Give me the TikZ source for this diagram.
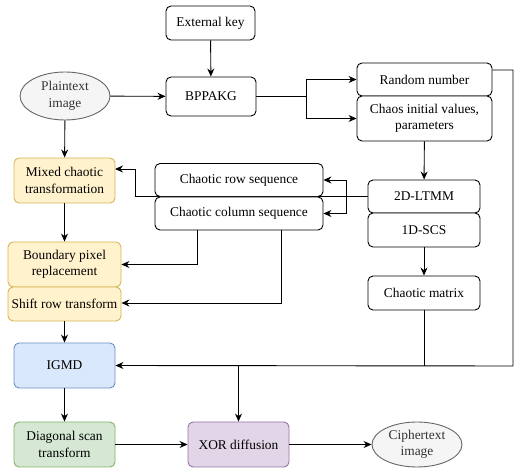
\documentclass[tikz,border=0pt]{standalone}
\usepackage{fontspec}
\setmainfont{Liberation Serif}
\usetikzlibrary{arrows.meta,shapes.geometric,calc}
\definecolor{yfill}{HTML}{FFF2CC}\definecolor{ystroke}{HTML}{D6B656}
\definecolor{bfill}{HTML}{DAE8FC}\definecolor{bstroke}{HTML}{6C8EBF}
\definecolor{gfill}{HTML}{D5E8D4}\definecolor{gstroke}{HTML}{82B366}
\definecolor{pfill}{HTML}{E1D5E7}\definecolor{pstroke}{HTML}{9673A6}
\definecolor{efill}{HTML}{F5F5F5}\definecolor{estroke}{HTML}{666666}
\definecolor{etext}{HTML}{333333}
\begin{document}
\begin{tikzpicture}[x=1pt,y=-1pt,
  font=\fontspec{Liberation Serif}\fontsize{13.4}{16.5}\selectfont,
  box/.style={draw=black,line width=0.9pt,rounded corners=5pt,fill=white,align=center,inner sep=2pt},
  ybox/.style={box,draw=ystroke,fill=yfill},
  bbox/.style={box,draw=bstroke,fill=bfill},
  gbox/.style={box,draw=gstroke,fill=gfill},
  pbox/.style={box,draw=pstroke,fill=pfill},
  ell/.style={ellipse,draw=estroke,fill=efill,text=etext,line width=0.9pt,align=center,inner sep=0pt},
  conn/.style={line width=0.9pt},
  arr/.style={conn,-{Stealth[length=8pt,width=7pt]}}]
\useasboundingbox (0,0) rectangle (515,470);

% line from 2D-LTMM to Mixed (behind boxes)
\coordinate (ltmmw) at (368,196.5);
\draw[arr] (ltmmw) -- (135,196.5) -- (135,169) -- (115,169);

\node[box,minimum width=89pt,minimum height=34pt] (ext) at (210.5,23) {External key};
\node[box,minimum width=90pt,minimum height=39pt] (bpp) at (211,96.5) {BPPAKG};
\node[ell,minimum width=90pt,minimum height=48pt] (plain) at (65,96) {Plaintext\\image};
\node[ybox,minimum width=101pt,minimum height=45pt] (mix) at (64.5,180.5) {Mixed chaotic\\transformation};
\node[box,minimum width=168pt,minimum height=33pt] (row) at (239,180) {Chaotic row sequence};
\node[box,minimum width=168pt,minimum height=33pt] (col) at (239,213.5) {Chaotic column sequence};
\node[box,minimum width=135pt,minimum height=33pt] (rand) at (424.5,79.5) {Random number};
\node[box,minimum width=135pt,minimum height=45pt] (chaos) at (424.5,118.5) {Chaos initial values,\\parameters};
\node[box,minimum width=112pt,minimum height=33pt] (ltmm) at (424,196.5) {2D-LTMM};
\node[box,minimum width=112pt,minimum height=34pt] (scs) at (424,230) {1D-SCS};
\node[box,minimum width=112pt,minimum height=34pt] (mat) at (424,293) {Chaotic matrix};
\node[ybox,minimum width=113pt,minimum height=45pt] (bound) at (64.5,264.5) {Boundary pixel\\replacement};
\node[ybox,minimum width=113pt,minimum height=34pt] (shift) at (64.5,304) {Shift row transform};
\node[bbox,minimum width=101pt,minimum height=45pt] (igmd) at (64.5,365.5) {IGMD};
\node[gbox,minimum width=101pt,minimum height=45pt] (diag) at (64.5,444.5) {Diagonal scan\\transform};
\node[pbox,minimum width=101pt,minimum height=45pt] (xor) at (238.5,444.5) {XOR diffusion};
\node[ell,minimum width=90pt,minimum height=45pt] (ciph) at (417,444.5) {Ciphertext\\image};

\draw[arr] (ext) -- (bpp);
\draw[arr] (plain) -- (bpp);
\draw[arr] (plain) -- (mix);
\coordinate (bsplit) at (306,96.5);
\draw[conn] (bpp.east) -- (bsplit);
\draw[arr] (bsplit) |- (rand.west);
\draw[arr] (bsplit) |- (chaos.west);
\draw[arr] (chaos) -- (ltmm);
\coordinate (lsplit) at (346,196.5);
\draw[arr] (lsplit) |- (row.east);
\draw[arr] (lsplit) |- (col.east);
\draw[arr] (col.south -| 197,0) |- (bound.east);
\draw[arr] (col.south -| 281,0) |- (shift.east |- 0,303);
\draw[arr] (mix) -- (bound);
\draw[arr] (shift) -- (igmd);
\draw[arr] (scs) -- (mat);
\coordinate (rc) at (513,366);
\draw[arr] (rand.east |- 0,70) -| (rc) -- (igmd.east);
\draw[conn] (mat.south) -- (mat.south |- rc);
\draw[arr] (238.5,366) -- (xor.north);
\draw[arr] (igmd) -- (diag);
\draw[arr] (diag) -- (xor);
\draw[arr] (xor) -- (ciph);
\end{tikzpicture}
\end{document}
